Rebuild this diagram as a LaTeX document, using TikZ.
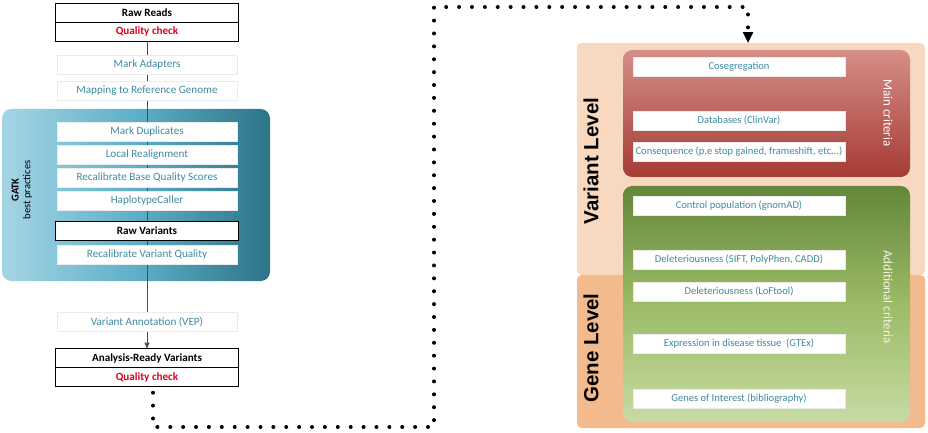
\documentclass[tikz,border=0pt]{standalone}
\usepackage{fontspec}
\setmainfont{Carlito}
\newfontfamily\levelfont{Liberation Sans}
\usetikzlibrary{arrows,arrows.meta,shadows,positioning}

\definecolor{steptext}{HTML}{3F8AA0}
\definecolor{qcred}{HTML}{E0001B}
\definecolor{varpanel}{HTML}{F8D9BF}
\definecolor{genepanel}{HTML}{F3BA8D}
\definecolor{gatkleft}{HTML}{A5D5E5}
\definecolor{gatkmid}{HTML}{5DAFC7}
\definecolor{gatkright}{HTML}{2C7488}
\definecolor{maintop}{HTML}{D68E88}
\definecolor{mainbottom}{HTML}{A53B34}
\definecolor{addtop}{HTML}{64863A}
\definecolor{addmid}{HTML}{9BBB66}
\definecolor{addbottom}{HTML}{C6DBA4}

\begin{document}
\begin{tikzpicture}[x=0.03cm,y=-0.03cm,>=stealth',node distance=0.69cm,
  stepbox/.style={fill=white,draw=black!8,minimum width=5.4cm,minimum height=0.57cm,inner sep=0pt,
    font=\fontsize{9.5}{10}\selectfont,text=steptext,
    drop shadow={opacity=0.25,shadow xshift=0.8pt,shadow yshift=-0.8pt}},
  headbox/.style={fill=white,draw=black,line width=0.6pt,minimum width=5.49cm,minimum height=0.57cm,
    inner sep=0pt,font=\fontsize{9.5}{10}\selectfont\bfseries,
    drop shadow={opacity=0.3,shadow xshift=0.8pt,shadow yshift=-0.8pt}},
  qcbox/.style={headbox,text=qcred},
  critbox/.style={stepbox,minimum width=6.36cm,font=\fontsize{9}{10}\selectfont},
  levelpanel/.style={rounded corners=4pt,minimum width=10.44cm,inner sep=0pt},
  leveltext/.style={rotate=90,font=\levelfont\bfseries\fontsize{17.5}{20}\selectfont},
  crittext/.style={rotate=-90,text=white,font=\fontsize{11}{12}\selectfont},
  dots/.style={line width=3.4pt,line cap=round,dash pattern=on 0pt off 11pt}]

\useasboundingbox (0,0) rectangle (928,433);

% panels
\node[rounded corners=8pt,minimum width=8.04cm,minimum height=5.16cm,
  left color=gatkleft,right color=gatkright,middle color=gatkmid]
  (gatk) at (136,195) {};
\node[align=center,rotate=90,font=\fontsize{9}{10}\selectfont] (gatklab) at (22,190)
  {\textbf{GATK}\\best practices};

\node[levelpanel,fill=varpanel,minimum height=6.96cm] (vl) at (751,159) {};
\node[levelpanel,fill=genepanel,minimum height=4.59cm] (gl) at (751,351.5) {};
\node[leveltext] (vltext) at (591,161) {Variant Level};
\node[leveltext] (gltext) at (591,348) {Gene Level};

\node[rounded corners=8pt,minimum width=8.61cm,minimum height=3.81cm,inner sep=0pt,
  top color=maintop,bottom color=mainbottom] (main) at (766.5,113.5) {};
\node[rounded corners=8pt,minimum width=8.61cm,minimum height=7.08cm,inner sep=0pt,
  top color=addtop,bottom color=addbottom,middle color=addmid] (add) at (766.5,304) {};
\node[crittext] (mainlab) at (888,113) {Main criteria};
\node[crittext,text=white!92!olive] (addlab) at (888,297) {Additional criteria};

% pipeline
\node[headbox] (rr) at (147,12.5) {Raw Reads};
\node[qcbox] (rrq) [below of=rr,node distance=0.57cm] {Quality check};
\node[stepbox] (ma) at (147,65) {Mark Adapters};
\node[stepbox] (map) [below of=ma,node distance=0.78cm] {Mapping to Reference Genome};
\node[stepbox] (md) at (147,132) {Mark Duplicates};
\node[stepbox] (lr) [below of=md] {Local Realignment};
\node[stepbox] (rbq) [below of=lr] {Recalibrate Base Quality Scores};
\node[stepbox] (hc) [below of=rbq] {HaplotypeCaller};
\node[headbox] (rv) at (147,231) {Raw Variants};
\node[stepbox] (rvq) [below of=rv,node distance=0.72cm] {Recalibrate Variant Quality};
\node[stepbox] (vep) at (147,322) {Variant Annotation (VEP)};
\node[headbox] (arv) at (147,358) {Analysis-Ready Variants};
\node[qcbox] (arq) [below of=arv,node distance=0.57cm] {Quality check};

\path[draw=black!70,line width=0.8pt]
  (rrq) edge (ma)
  (ma) edge (map)
  (map) edge (md)
  (md) edge (lr)
  (lr) edge (rbq)
  (rbq) edge (hc)
  (hc) edge (rv)
  (rv) edge (rvq)
  (rvq) edge (vep)
  (vep) edge[->] (arv);

% criteria
\node[critbox] (coseg) at (739,66.5) {Cosegregation};
\node[critbox] (clinvar) at (739,120.5) {Databases (ClinVar)};
\node[critbox] (conseq) at (739,152) {Consequence (p.e stop gained, frameshift, etc...)};
\node[critbox] (gnomad) at (739,205.5) {Control population (gnomAD)};
\node[critbox] (sift) at (739,259.5) {Deleteriousness (SIFT, PolyPhen, CADD)};
\node[critbox] (loftool) at (739,291.5) {Deleteriousness (LoFtool)};
\node[critbox] (gtex) at (739,343.5) {Expression in disease tissue\ \ (GTEx)};
\node[critbox] (genes) at (739,398.5) {Genes of Interest (bibliography)};

% dotted link
\coordinate (d1) at (153,427);
\coordinate (d2) at (434,427);
\coordinate (d3) at (434,7);
\coordinate (d4) at (748,7);
\draw[dots,-{Triangle[width=9pt,length=9pt,line width=0pt]},shorten <=5pt]
  (arq.south -| d1) -- (d1) -- (d2) -- (d3) -- (d4) -- (d4 |- vl.north);

\end{tikzpicture}
\end{document}
